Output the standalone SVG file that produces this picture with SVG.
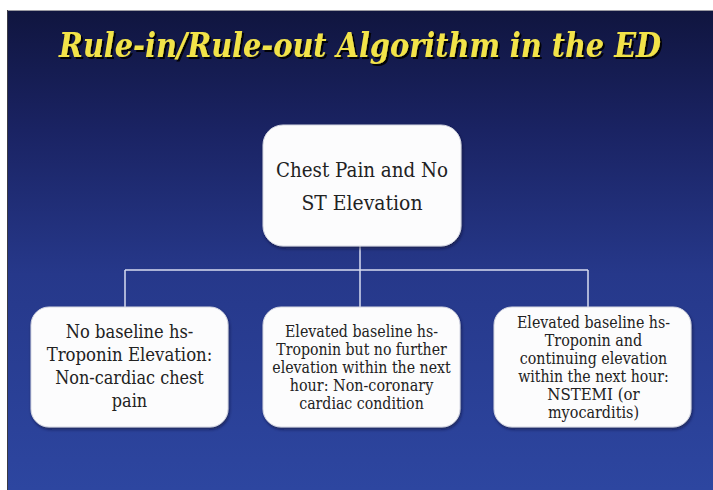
<svg xmlns="http://www.w3.org/2000/svg" width="713" height="490" viewBox="0 0 713 490">
  <defs>
    <linearGradient id="bg" x1="0" y1="0" x2="0" y2="1">
      <stop offset="0" stop-color="#10153f"/>
      <stop offset="0.25" stop-color="#1a2363"/>
      <stop offset="0.55" stop-color="#26388a"/>
      <stop offset="1" stop-color="#2d46a0"/>
    </linearGradient>
    <filter id="shadow" x="-10%" y="-10%" width="120%" height="125%">
      <feDropShadow dx="1" dy="2" stdDeviation="1.5" flood-color="#0a0f30" flood-opacity="0.6"/>
    </filter>
    <filter id="tshadow" filterUnits="userSpaceOnUse" x="30" y="15" width="660" height="65">
      <feDropShadow dx="2" dy="2" stdDeviation="0.5" flood-color="#000000" flood-opacity="0.9"/>
    </filter>
  </defs>
  <style>
    .box { fill: #fcfcfd; stroke: #d4d6e2; stroke-width: 1; filter: url(#shadow); }
    .t { font-family: 'DejaVu Serif Condensed', 'DejaVu Serif', serif; font-stretch: condensed; fill: #222222; text-anchor: middle; }
    .conn { stroke: #d8dcf0; stroke-width: 1.5; fill: none; }
    .title { font-family: 'DejaVu Serif Condensed', 'DejaVu Serif', serif; font-stretch: condensed; font-weight: bold; font-style: italic; font-size: 33px; fill: #f2e34a; text-anchor: middle; }
  </style>
  <rect x="0" y="0" width="713" height="490" fill="#ffffff"/>
  <rect x="7" y="10" width="706" height="480" fill="url(#bg)"/>
  <line x1="7" y1="10.5" x2="713" y2="10.5" stroke="#9a9aa2" stroke-width="1"/>
  <line x1="7.5" y1="10" x2="7.5" y2="490" stroke="#3a3a44" stroke-width="1"/>

  <g filter="url(#tshadow)">
    <text class="title" x="360" y="57" textLength="602" lengthAdjust="spacingAndGlyphs">Rule-in/Rule-out Algorithm in the ED</text>
  </g>

  <g id="connectors">
    <line class="conn" x1="360" y1="246" x2="360" y2="270"/>
    <line class="conn" x1="125" y1="270" x2="588" y2="270"/>
    <line class="conn" x1="125" y1="270" x2="125" y2="307"/>
    <line class="conn" x1="360" y1="270" x2="360" y2="307"/>
    <line class="conn" x1="588" y1="270" x2="588" y2="307"/>
  </g>

  <g id="root">
    <rect class="box" x="263" y="125" width="198" height="121" rx="20"/>
    <text class="t" font-size="21" x="362" y="177" textLength="172" lengthAdjust="spacingAndGlyphs">Chest Pain and No</text>
    <text class="t" font-size="21" x="362" y="210" textLength="121" lengthAdjust="spacingAndGlyphs">ST Elevation</text>
  </g>

  <g id="noncardiac">
    <rect class="box" x="31" y="307" width="197" height="120" rx="18"/>
    <text class="t" font-size="18.8" x="129.5" y="338" textLength="127.5" lengthAdjust="spacingAndGlyphs">No baseline hs-</text>
    <text class="t" font-size="18.8" x="129.5" y="361" textLength="165.7" lengthAdjust="spacingAndGlyphs">Troponin Elevation:</text>
    <text class="t" font-size="18.8" x="129.5" y="384" textLength="148.6" lengthAdjust="spacingAndGlyphs">Non-cardiac chest</text>
    <text class="t" font-size="18.8" x="129.5" y="407" textLength="35.3" lengthAdjust="spacingAndGlyphs">pain</text>
  </g>

  <g id="noncoronary">
    <rect class="box" x="263" y="307" width="197" height="120" rx="18"/>
    <text class="t" font-size="16.5" x="361.5" y="337" textLength="153" lengthAdjust="spacingAndGlyphs">Elevated baseline hs-</text>
    <text class="t" font-size="16.5" x="361.5" y="355" textLength="170.5" lengthAdjust="spacingAndGlyphs">Troponin but no further</text>
    <text class="t" font-size="16.5" x="361.5" y="373" textLength="178.5" lengthAdjust="spacingAndGlyphs">elevation within the next</text>
    <text class="t" font-size="16.5" x="361.5" y="391" textLength="143.5" lengthAdjust="spacingAndGlyphs">hour: Non-coronary</text>
    <text class="t" font-size="16.5" x="361.5" y="409" textLength="124.5" lengthAdjust="spacingAndGlyphs">cardiac condition</text>
  </g>

  <g id="nstemi">
    <rect class="box" x="494" y="307" width="197" height="120" rx="18"/>
    <text class="t" font-size="16.5" x="593.5" y="328" textLength="153" lengthAdjust="spacingAndGlyphs">Elevated baseline hs-</text>
    <text class="t" font-size="16.5" x="593.5" y="346" textLength="97.5" lengthAdjust="spacingAndGlyphs">Troponin and</text>
    <text class="t" font-size="16.5" x="593.5" y="364" textLength="147.5" lengthAdjust="spacingAndGlyphs">continuing elevation</text>
    <text class="t" font-size="16.5" x="593.5" y="382" textLength="150.5" lengthAdjust="spacingAndGlyphs">within the next hour:</text>
    <text class="t" font-size="16.5" x="593.5" y="400" textLength="92.5" lengthAdjust="spacingAndGlyphs">NSTEMI (or</text>
    <text class="t" font-size="16.5" x="593.5" y="418" textLength="91" lengthAdjust="spacingAndGlyphs">myocarditis)</text>
  </g>
</svg>
